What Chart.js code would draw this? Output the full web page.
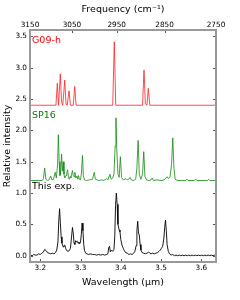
<!DOCTYPE html>
<html>
<head>
<meta charset="utf-8">
<script src="https://cdn.jsdelivr.net/npm/chart.js@4"></script>
<style>
  html, body { margin: 0; padding: 0; background: #fff; }
</style>
</head>
<body>
<canvas id="spectra" width="240" height="300"></canvas>
<script>
// tick labels
const waveTicks = [3.2, 3.3, 3.4, 3.5, 3.6];
const freqTicks = [3150, 3050, 2950, 2850, 2750];
const yTicks = [0.0, 0.5, 1.0, 1.5, 2.0, 2.5, 3.0, 3.5];

// G09-h (offset by 2.4)
const g09X = [3.1746, 3.239, 3.2424, 3.2455, 3.2498, 3.253, 3.256, 3.2608, 3.264, 3.267, 3.2714, 3.275,
  3.282, 3.2856, 3.289, 3.380, 3.3839, 3.3875, 3.454, 3.4577, 3.461, 3.465, 3.4683, 3.472, 3.6364];
const g09Y = [2.4, 2.4, 2.75, 2.40, 2.90, 2.45, 2.40, 2.80, 2.42, 2.40, 2.63, 2.40,
  2.40, 2.70, 2.40, 2.40, 3.41, 2.40, 2.40, 2.96, 2.42, 2.40, 2.67, 2.40, 2.40];

// SP16 (offset by 1.2)
const sp16X = [3.1746, 3.205, 3.208, 3.211, 3.214, 3.218, 3.222, 3.226, 3.229, 3.233, 3.237, 3.240,
  3.243, 3.245, 3.247, 3.249, 3.251, 3.253, 3.255, 3.257, 3.259, 3.261, 3.264, 3.266, 3.268, 3.270,
  3.272, 3.274, 3.276, 3.278, 3.280, 3.282, 3.284, 3.286, 3.288, 3.291, 3.293, 3.295, 3.297, 3.300,
  3.302, 3.305, 3.307, 3.310, 3.315, 3.322, 3.330, 3.334, 3.337, 3.345, 3.352, 3.358, 3.365, 3.368,
  3.371, 3.373, 3.376, 3.380, 3.383, 3.386, 3.388, 3.390, 3.393, 3.396, 3.399, 3.402, 3.406, 3.410,
  3.413, 3.416, 3.420, 3.423, 3.426, 3.432, 3.437, 3.440, 3.443, 3.446, 3.450, 3.454, 3.457, 3.460,
  3.464, 3.470, 3.475, 3.478, 3.481, 3.490, 3.500, 3.508, 3.512, 3.515, 3.518, 3.522, 3.526, 3.529,
  3.532, 3.535, 3.540, 3.550, 3.561, 3.564, 3.567, 3.583, 3.586, 3.589, 3.615, 3.618, 3.621, 3.6364];
const sp16Y = [1.20, 1.20, 1.23, 1.40, 1.22, 1.20, 1.21, 1.27, 1.21, 1.22, 1.33, 1.24,
  1.45, 1.93, 1.50, 1.28, 1.35, 1.62, 1.35, 1.50, 1.30, 1.24, 1.28, 1.32, 1.37, 1.25,
  1.22, 1.26, 1.24, 1.30, 1.36, 1.28, 1.26, 1.33, 1.24, 1.27, 1.22, 1.28, 1.22, 1.21,
  1.30, 1.60, 1.28, 1.21, 1.20, 1.21, 1.22, 1.33, 1.22, 1.20, 1.21, 1.20, 1.23, 1.21,
  1.27, 1.30, 1.22, 1.24, 1.30, 1.75, 2.20, 1.70, 1.30, 1.25, 1.58, 1.25, 1.21, 1.22,
  1.23, 1.21, 1.22, 1.25, 1.21, 1.20, 1.22, 1.40, 1.84, 1.30, 1.22, 1.30, 1.66, 1.26,
  1.21, 1.20, 1.21, 1.24, 1.20, 1.21, 1.20, 1.21, 1.24, 1.26, 1.23, 1.25, 1.45, 1.88,
  1.40, 1.22, 1.20, 1.20, 1.20, 1.22, 1.20, 1.20, 1.22, 1.20, 1.20, 1.22, 1.20, 1.20];

// This experiment
const expX = [3.176, 3.180, 3.184, 3.188, 3.192, 3.196, 3.200, 3.204, 3.208, 3.211, 3.215, 3.218,
  3.222, 3.226, 3.230, 3.234, 3.238, 3.241, 3.244, 3.246, 3.248, 3.250, 3.252, 3.254, 3.257, 3.259,
  3.261, 3.263, 3.266, 3.269, 3.272, 3.275, 3.277, 3.280, 3.282, 3.284, 3.286, 3.288, 3.290, 3.292,
  3.294, 3.296, 3.298, 3.300, 3.302, 3.304, 3.306, 3.308, 3.310, 3.313, 3.316, 3.320, 3.325, 3.330,
  3.335, 3.340, 3.345, 3.350, 3.355, 3.360, 3.365, 3.368, 3.370, 3.372, 3.374, 3.377, 3.380, 3.383,
  3.385, 3.387, 3.389, 3.391, 3.393, 3.396, 3.398, 3.400, 3.403, 3.406, 3.409, 3.412, 3.416, 3.420,
  3.424, 3.428, 3.432, 3.435, 3.438, 3.440, 3.442, 3.444, 3.446, 3.448, 3.450, 3.453, 3.457, 3.461,
  3.465, 3.469, 3.472, 3.475, 3.479, 3.483, 3.487, 3.491, 3.495, 3.498, 3.501, 3.504, 3.507, 3.509,
  3.511, 3.513, 3.515, 3.518, 3.521, 3.525, 3.529, 3.533, 3.537, 3.541, 3.545, 3.549, 3.553, 3.557,
  3.561, 3.565, 3.569, 3.573, 3.577, 3.581, 3.585, 3.589, 3.593, 3.597, 3.601, 3.605, 3.609, 3.613,
  3.617, 3.621, 3.625, 3.629, 3.633, 3.636];
const expY = [0.01, 0.00, 0.02, 0.01, 0.01, 0.03, 0.02, 0.04, 0.06, 0.10, 0.08, 0.05,
  0.04, 0.03, 0.04, 0.03, 0.05, 0.09, 0.22, 0.55, 0.75, 0.52, 0.30, 0.20, 0.14, 0.16,
  0.17, 0.12, 0.08, 0.07, 0.08, 0.12, 0.25, 0.45, 0.36, 0.20, 0.18, 0.24, 0.22, 0.23,
  0.20, 0.22, 0.19, 0.22, 0.34, 0.52, 0.40, 0.18, 0.08, 0.04, 0.03, 0.02, 0.03, 0.02,
  0.02, 0.01, 0.02, 0.01, 0.02, 0.01, 0.02, 0.03, 0.13, 0.15, 0.06, 0.09, 0.07, 0.10,
  0.30, 0.80, 1.00, 0.82, 0.50, 0.41, 0.38, 0.26, 0.17, 0.12, 0.08, 0.05, 0.04, 0.02,
  0.03, 0.02, 0.04, 0.07, 0.16, 0.40, 0.55, 0.36, 0.33, 0.18, 0.09, 0.05, 0.04, 0.03,
  0.04, 0.06, 0.04, 0.03, 0.04, 0.03, 0.04, 0.05, 0.07, 0.09, 0.12, 0.15, 0.28, 0.45,
  0.57, 0.40, 0.18, 0.07, 0.03, 0.01, 0.02, 0.00, 0.01, 0.00, 0.01, 0.00, 0.01, 0.00,
  0.01, 0.00, 0.01, 0.00, 0.01, 0.00, 0.01, 0.00, 0.01, 0.00, 0.01, 0.00, 0.01, 0.00,
  0.01, 0.00, 0.01, 0.00, 0.01, 0.00];

const FONT = 'DejaVu Sans';
Chart.defaults.font.family = FONT;
Chart.defaults.color = '#000';

function pts(xs, ys) {
  return xs.map((x, i) => ({x: x, y: ys[i]}));
}

// matplotlib-ish frame: grey spines, inward ticks, panel labels
const frame = {
  id: 'frame',
  afterDatasetsDraw(chart) {
    const {ctx, chartArea: a, scales} = chart;
    ctx.save();
    ctx.strokeStyle = '#555';
    ctx.lineWidth = 1;
    ctx.beginPath();
    yTicks.forEach(v => {
      const py = Math.round(scales.y.getPixelForValue(v)) + 0.5;
      ctx.moveTo(a.left, py); ctx.lineTo(a.left + 3, py);
      ctx.moveTo(a.right, py); ctx.lineTo(a.right - 3, py);
    });
    waveTicks.forEach(v => {
      const px = Math.round(scales.x.getPixelForValue(v)) + 0.5;
      ctx.moveTo(px, a.bottom); ctx.lineTo(px, a.bottom - 3);
    });
    freqTicks.forEach(f => {
      const px = Math.round(scales.x.getPixelForValue(1e4 / f)) + 0.5;
      ctx.moveTo(px, a.top); ctx.lineTo(px, a.top + 3);
    });
    ctx.stroke();
    ctx.strokeStyle = '#999';
    ctx.lineWidth = 2;
    ctx.strokeRect(a.left, a.top, a.right - a.left, a.bottom - a.top);

    ctx.font = '9.5px "' + FONT + '"';
    ctx.textAlign = 'left';
    ctx.textBaseline = 'middle';
    ctx.fillStyle = 'red';
    ctx.fillText('G09-h', a.left + 2, scales.y.getPixelForValue(3.43));
    ctx.fillStyle = 'green';
    ctx.fillText('SP16', a.left + 2, scales.y.getPixelForValue(2.24));
    ctx.fillStyle = '#000';
    ctx.fillText('This exp.', a.left + 2, scales.y.getPixelForValue(1.10));
    ctx.restore();
  }
};

new Chart(document.getElementById('spectra'), {
  type: 'line',
  data: {
    datasets: [
      {label: 'G09-h', data: pts(g09X, g09Y), borderColor: '#ff2020', borderWidth: 0.8},
      {label: 'SP16', data: pts(sp16X, sp16Y), borderColor: '#108a10', borderWidth: 0.8},
      {label: 'This exp.', data: pts(expX, expY), borderColor: '#000', borderWidth: 0.9}
    ]
  },
  options: {
    responsive: false,
    animation: false,
    parsing: false,
    datasets: {line: {pointRadius: 0, tension: 0, fill: false}},
    layout: {padding: {left: 0, right: 24, top: 0, bottom: 0}},
    plugins: {legend: {display: false}, tooltip: {enabled: false}},
    scales: {
      x: {
        type: 'linear', position: 'bottom', min: 3.1746, max: 3.6364,
        afterBuildTicks: s => { s.ticks = waveTicks.map(v => ({value: v})); },
        afterFit: s => { s.height = 38; },
        grid: {display: false, drawTicks: false},
        border: {display: false},
        ticks: {autoSkip: false, maxRotation: 0, padding: 2, font: {size: 7.3},
          callback: v => v.toFixed(1)},
        title: {display: true, text: 'Wavelength (μm)', font: {size: 9.5},
          padding: {top: 0, bottom: 12}}
      },
      x2: {
        type: 'linear', position: 'top', min: 3.1746, max: 3.6364,
        afterBuildTicks: s => { s.ticks = freqTicks.map(f => ({value: 1e4 / f})); },
        afterFit: s => { s.height = 30; },
        grid: {display: false, drawTicks: false},
        border: {display: false},
        ticks: {autoSkip: false, maxRotation: 0, padding: 1, font: {size: 7.3},
          callback: v => String(Math.round(1e4 / v))},
        title: {display: true, text: 'Frequency (cm⁻¹)', font: {size: 9.5},
          padding: {top: 4, bottom: 0}}
      },
      y: {
        type: 'linear', position: 'left', min: -0.1, max: 3.6,
        afterBuildTicks: s => { s.ticks = yTicks.map(v => ({value: v})); },
        afterFit: s => { s.width = 30; },
        grid: {display: false, drawTicks: false},
        border: {display: false},
        ticks: {autoSkip: false, padding: 3, font: {size: 7.3},
          callback: v => v.toFixed(1)},
        title: {display: true, text: 'Relative intensity', font: {size: 9.5},
          padding: {top: 2, bottom: 0}}
      }
    }
  },
  plugins: [frame]
});
</script>
</body>
</html>
